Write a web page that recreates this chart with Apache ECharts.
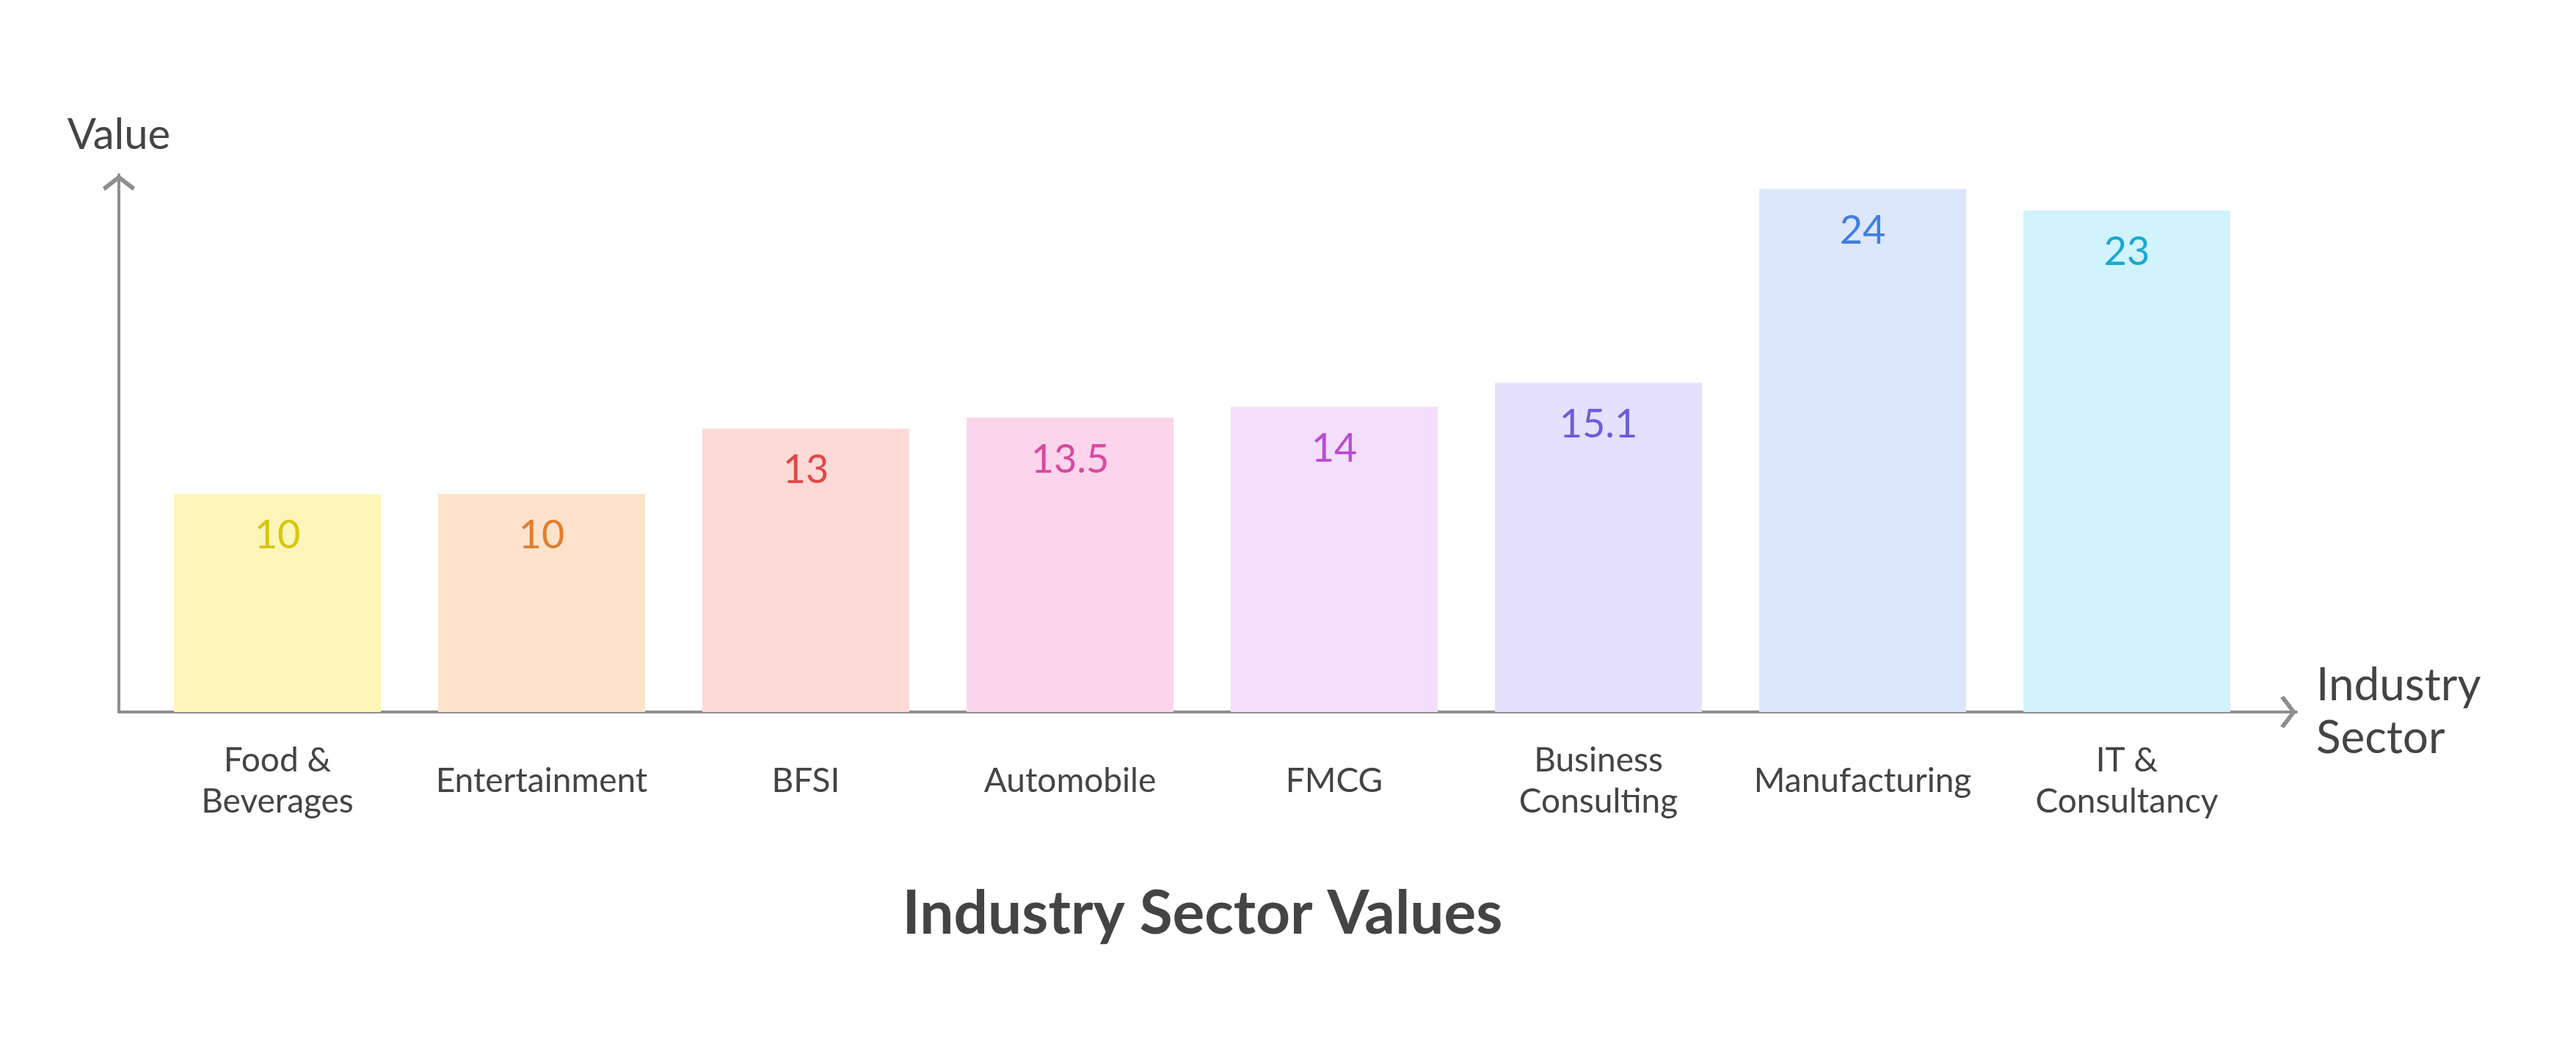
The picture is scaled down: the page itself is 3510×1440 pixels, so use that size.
<!DOCTYPE html>
<html>
<head>
<meta charset="utf-8">
<script src="https://cdn.jsdelivr.net/npm/echarts@6/dist/echarts.min.js"></script>
<style>html,body{margin:0;padding:0;background:#fff}#chart{width:3510px;height:1440px}</style>
</head>
<body>
<div id="chart"></div>
<script>
const categories = ['Food & Beverages', 'Entertainment', 'BFSI', 'Automobile', 'FMCG', 'Business Consulting', 'Manufacturing', 'IT & Consultancy'];
const values = [10, 10, 13, 13.5, 14, 15.1, 24, 23];
const barColors = ['#fef6b8', '#fde3cb', '#fdd9d7', '#fcd5ec', '#f3defb', '#e5e0fd', '#dce7fd', '#d1f3fb'];
const labelColors = ['#d9c40e', '#e07f2e', '#e04848', '#d9489f', '#b94bd6', '#6b5ddb', '#3f7fe0', '#1aa8d4'];
const titleText = 'Industry Sector Values';
const yName = 'Value';
const xName = 'Industry\nSector';

const FONT = 'Lato';
const AXIS_COLOR = '#8e8e8e';
const TEXT_COLOR = '#444444';
const chevron = 'path://M0,0 L10,7.6 L8.7,10 L0,3.3 L-8.7,10 L-10,7.6 Z';

const chart = echarts.init(document.getElementById('chart'), null, {renderer: 'canvas'});

const axisTop = 238, axisBottom = 970, axisLeft = 162, axisRight = 3129;

chart.setOption({
  backgroundColor: '#ffffff',
  animation: false,
  title: {
    text: titleText,
    left: (axisLeft + axisRight) / 2 - 12,
    textAlign: 'center',
    top: 1200,
    textStyle: {fontFamily: FONT, fontSize: 82, fontWeight: 'bold', color: TEXT_COLOR}
  },
  grid: [
    {left: 198, width: 2880, top: axisTop, height: axisBottom - axisTop, containLabel: false},
    {left: axisLeft, width: axisRight - axisLeft, top: axisTop, height: axisBottom - axisTop, containLabel: false}
  ],
  xAxis: [
    {
      gridIndex: 0, type: 'category', data: categories,
      axisLine: {show: false}, axisTick: {show: false}, splitLine: {show: false},
      axisLabel: {
        interval: 0, margin: 94, verticalAlign: 'middle', lineHeight: 56,
        fontFamily: FONT, fontSize: 46, color: TEXT_COLOR,
        formatter: function (v) {
          const i = v.lastIndexOf(' ');
          return i > 0 ? v.slice(0, i) + '\n' + v.slice(i + 1) : v;
        }
      }
    },
    {
      gridIndex: 1, type: 'value', min: 0, max: 1,
      axisLine: {show: true, symbol: ['none', chevron], symbolSize: [44, 22], symbolOffset: [0, -11],
        lineStyle: {color: AXIS_COLOR, width: 4}},
      axisTick: {show: false}, axisLabel: {show: false}, splitLine: {show: false},
      name: xName, nameLocation: 'end', nameGap: 27,
      nameTextStyle: {fontFamily: FONT, fontSize: 62, lineHeight: 72, color: TEXT_COLOR, align: 'left', verticalAlign: 'middle'}
    }
  ],
  yAxis: [
    {
      gridIndex: 0, type: 'value', min: 0, max: 24.65,
      axisLine: {show: false}, axisTick: {show: false}, axisLabel: {show: false}, splitLine: {show: false}
    },
    {
      gridIndex: 1, type: 'value', min: 0, max: 1,
      axisLine: {show: true, symbol: ['none', chevron], symbolSize: [44, 22], symbolOffset: [0, -11],
        lineStyle: {color: AXIS_COLOR, width: 4}},
      axisTick: {show: false}, axisLabel: {show: false}, splitLine: {show: false},
      name: yName, nameLocation: 'end', nameGap: 54,
      nameTextStyle: {fontFamily: FONT, fontSize: 58, color: TEXT_COLOR, align: 'center', verticalAlign: 'middle'}
    }
  ],
  series: [{
    type: 'bar',
    xAxisIndex: 0, yAxisIndex: 0,
    barWidth: 282,
    data: values.map(function (v, i) {
      return {
        value: v,
        itemStyle: {color: barColors[i]},
        label: {color: labelColors[i]}
      };
    }),
    label: {
      show: true, position: 'insideTop', distance: 30,
      fontFamily: FONT, fontSize: 54
    }
  }]
});
</script>
</body>
</html>
